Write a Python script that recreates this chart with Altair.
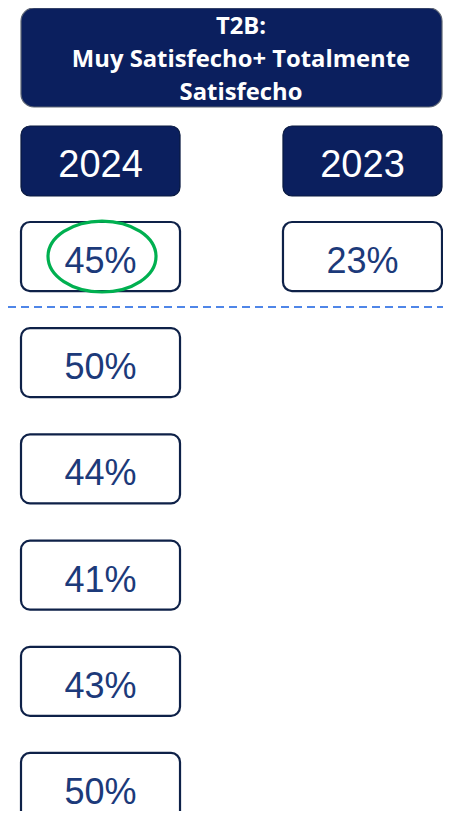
import altair as alt
import pandas as pd

# ---- data ----
years = ["2024", "2023"]
values_2024 = [45, 50, 44, 41, 43, 50]
values_2023 = [23]
highlight_year = "2024"
highlight_row = 0
header_lines = ["T2B:", "Muy Satisfecho+ Totalmente", "Satisfecho"]

NAVY = "#0B1F5E"
BOX_STROKE = "#0E2148"
VALUE_TEXT = "#1C3A7A"

rows = []
for yr, vals in zip(years, [values_2024, values_2023]):
    for i, v in enumerate(vals):
        rows.append({"year": yr, "row": i, "value": v, "label": f"{v}%",
                     "hl": (yr == highlight_year and i == highlight_row)})
df = pd.DataFrame(rows)
df_years = pd.DataFrame({"year": years})
df_one = pd.DataFrame({"k": [0]})

n_rows = len(values_2024)
x_scale = alt.Scale(domain=years, range=[13, 434], paddingInner=0.393, paddingOuter=0)
y_scale = alt.Scale(domain=list(range(n_rows)), range=[214, 814], paddingInner=0.35, paddingOuter=0)
X = alt.X("year:N", scale=x_scale, axis=None)
Y = alt.Y("row:O", scale=y_scale, axis=None)

header_box = alt.Chart(df_one).mark_rect(
    fill=NAVY, stroke="#5E6675", strokeWidth=1.2, cornerRadius=13
).encode(x=alt.value(13), x2=alt.value(434), y=alt.value(0), y2=alt.value(99))

header_layers = []
for i, line in enumerate(header_lines):
    header_layers.append(
        alt.Chart(pd.DataFrame({"t": [line]})).mark_text(
            font="Open Sans", fontWeight="bold", fontSize=23.8, color="white",
            align="center", baseline="alphabetic"
        ).encode(x=alt.value(233), y=alt.value(26 + 32.8 * i), text="t:N")
    )

year_boxes = alt.Chart(df_years).mark_rect(
    fill=NAVY, stroke="#0A1A40", strokeWidth=1.2, cornerRadius=9
).encode(x=X, y=alt.value(118), y2=alt.value(188))

year_text = alt.Chart(df_years).mark_text(
    font="Liberation Sans", fontSize=38, color="white",
    align="center", baseline="alphabetic"
).encode(x=X, y=alt.value(169), text="year:N")

value_boxes = alt.Chart(df).mark_rect(
    fill="white", stroke=BOX_STROKE, strokeWidth=2.2, cornerRadius=9
).encode(x=X, y=Y)

value_text = alt.Chart(df).mark_text(
    font="Liberation Sans", fontSize=36, color=VALUE_TEXT,
    align="center", baseline="alphabetic", dy=16.5
).encode(x=X, y=Y, text="label:N")

divider = alt.Chart(df_one).mark_rule(
    color="#4F86E8", strokeWidth=2, strokeDash=[8, 5]
).encode(x=alt.value(0), x2=alt.value(435), y=alt.value(299))

ellipse_path = "M -1 0 A 1 0.657 0 1 1 1 0 A 1 0.657 0 1 1 -1 0 Z"
highlight = alt.Chart(df).transform_filter(alt.datum.hl).mark_point(
    shape=ellipse_path, size=108 * 108, filled=False,
    stroke="#00B050", strokeWidth=3.2, opacity=1, xOffset=1.5
).encode(x=X, y=Y)

chart = alt.layer(
    header_box, *header_layers, year_boxes, year_text,
    value_boxes, value_text, divider, highlight
).properties(
    width=435, height=803, autosize=alt.AutoSizeParams(type="none"), padding=0
).configure_view(stroke=None)

chart.save("out.html", embed_options={"renderer": "svg", "actions": False})
